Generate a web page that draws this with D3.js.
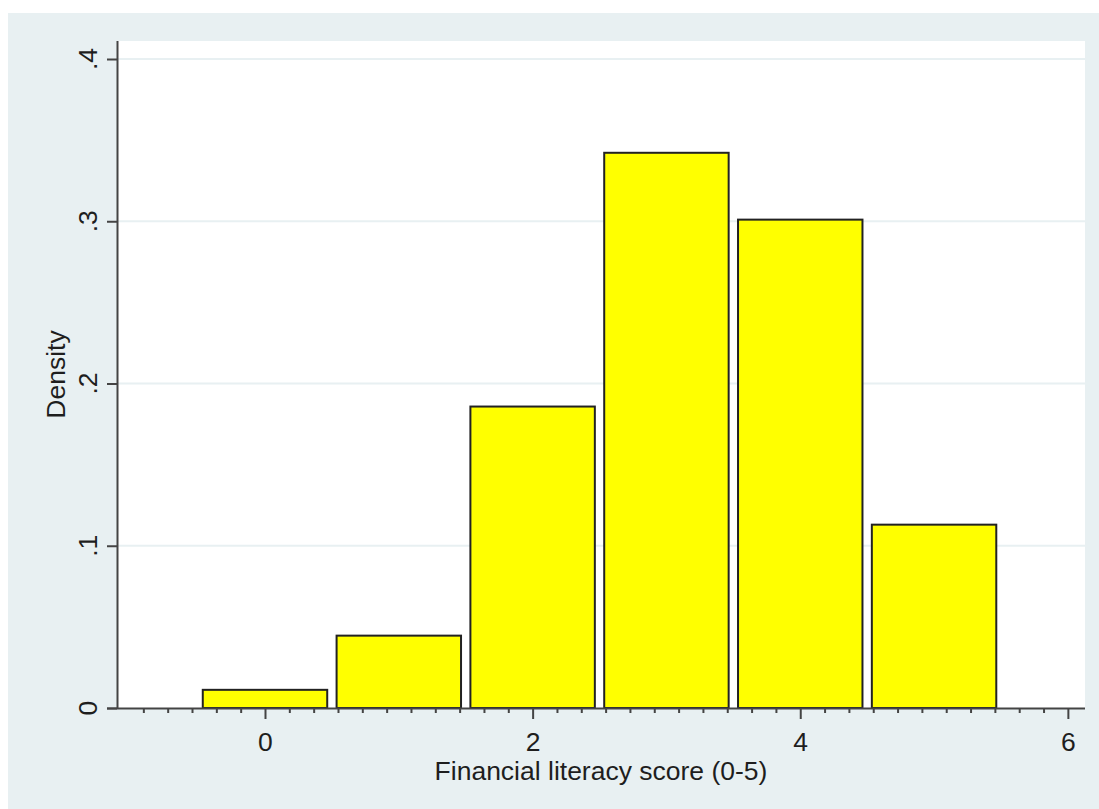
<!DOCTYPE html>
<html>
<head>
<meta charset="utf-8">
<script src="https://cdn.jsdelivr.net/npm/d3@7"></script>
<style>
  html, body { margin: 0; padding: 0; background: #ffffff; }
  svg { display: block; }
  text { font-family: "Liberation Sans", Arial, sans-serif; fill: #1e1e1e; }
</style>
</head>
<body>
<svg id="chart" width="1099" height="809"></svg>
<script>
// ---- data ----
const categories = [0, 1, 2, 3, 4, 5];
const density = [0.0112, 0.0446, 0.1858, 0.3422, 0.3010, 0.1130];
const xTickValues = [0, 2, 4, 6];
const xTickLabels = ["0", "2", "4", "6"];
const yTickValues = [0, 0.1, 0.2, 0.3, 0.4];
const yTickLabels = ["0", ".1", ".2", ".3", ".4"];
const xTitle = "Financial literacy score (0-5)";
const yTitle = "Density";

// ---- layout ----
const W = 1099, H = 809;
const plot = { left: 117, right: 1085, top: 41, bottom: 708 };
const FS = 26.5;

const svg = d3.select("#chart");

// outer background
svg.append("rect").attr("x", 8).attr("y", 13).attr("width", W - 8).attr("height", H - 13)
  .attr("fill", "#e8f0f2");
// plot region
svg.append("rect").attr("x", plot.left).attr("y", plot.top)
  .attr("width", plot.right - plot.left).attr("height", plot.bottom - plot.top)
  .attr("fill", "#ffffff");

const x = d3.scaleLinear().domain([-1.106, 6.128]).range([plot.left, plot.right]);
const y = d3.scaleLinear().domain([0, 0.4111]).range([plot.bottom, plot.top]);

// gridlines
svg.append("g").selectAll("line").data(yTickValues.filter(v => v > 0)).join("line")
  .attr("x1", plot.left).attr("x2", plot.right)
  .attr("y1", d => y(d)).attr("y2", d => y(d))
  .attr("stroke", "#e8f0f2").attr("stroke-width", 2);

// bars
const binW = 1, barFrac = 0.93;
svg.append("g").selectAll("rect").data(categories).join("rect")
  .attr("x", (d) => x(d - binW * barFrac / 2))
  .attr("width", (d) => x(d + binW * barFrac / 2) - x(d - binW * barFrac / 2))
  .attr("y", (d, i) => y(density[i]))
  .attr("height", (d, i) => y(0) - y(density[i]))
  .attr("fill", "#ffff00")
  .attr("stroke", "#222222")
  .attr("stroke-width", 2);

// minor x ticks
const minorTicks = d3.range(-6, 34).map(k => k * 2 / 11)
  .filter(v => v > -1.08 && v < 6.12 && !xTickValues.some(m => Math.abs(m - v) < 1e-6));

const xAxis = d3.axisBottom(x).tickValues(xTickValues)
  .tickFormat((d, i) => xTickLabels[i]).tickSize(11).tickPadding(4);
const gx = svg.append("g").attr("transform", `translate(0,${plot.bottom})`).call(xAxis);
gx.select(".domain").attr("d", `M${plot.left - 10},0.5H${plot.right}`)
  .attr("stroke", "#444").attr("stroke-width", 2);
gx.selectAll(".tick line").attr("stroke", "#444").attr("stroke-width", 2);
gx.selectAll(".tick text").attr("font-size", FS).attr("y", 43).attr("dy", null)
  .style("font-family", "'Liberation Sans', Arial, sans-serif").attr("fill", "#1e1e1e");

const gxm = svg.append("g").attr("transform", `translate(0,${plot.bottom})`)
  .call(d3.axisBottom(x).tickValues(minorTicks).tickSize(5).tickFormat(""));
gxm.select(".domain").remove();
gxm.selectAll(".tick line").attr("stroke", "#444").attr("stroke-width", 2);

// y axis
const yAxis = d3.axisLeft(y).tickValues(yTickValues).tickSize(10).tickFormat("");
const gy = svg.append("g").attr("transform", `translate(${plot.left},0)`).call(yAxis);
gy.select(".domain").attr("d", `M0.5,${plot.bottom}V${plot.top}`)
  .attr("stroke", "#444").attr("stroke-width", 2);
gy.selectAll(".tick line").attr("stroke", "#444").attr("stroke-width", 2);

// rotated y tick labels
svg.append("g").selectAll("text").data(yTickValues).join("text")
  .attr("transform", d => `translate(97,${y(d)}) rotate(-90)`)
  .attr("text-anchor", "middle")
  .attr("font-size", FS)
  .text((d, i) => yTickLabels[i]);

// axis titles
svg.append("text").attr("x", (plot.left + plot.right) / 2).attr("y", 780)
  .attr("text-anchor", "middle").attr("font-size", FS).text(xTitle);
svg.append("text")
  .attr("transform", `translate(65,${(plot.top + plot.bottom) / 2}) rotate(-90)`)
  .attr("text-anchor", "middle").attr("font-size", FS).text(yTitle);
</script>
</body>
</html>
